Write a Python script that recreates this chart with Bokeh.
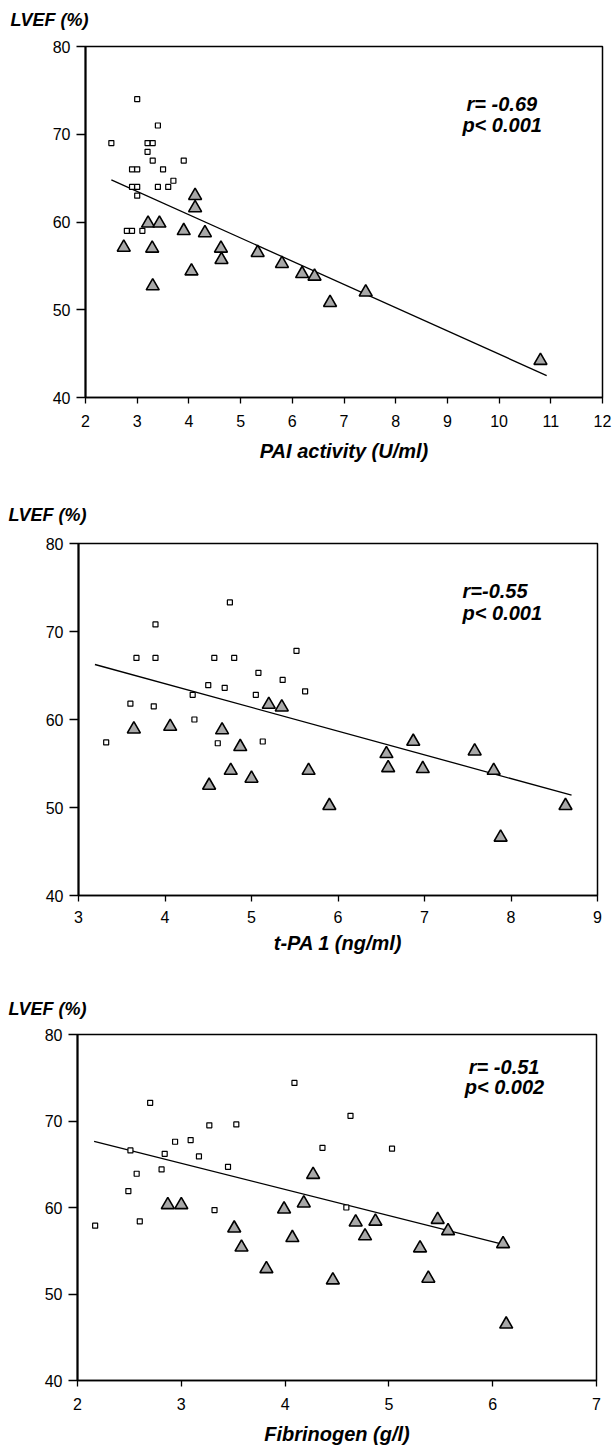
from bokeh.plotting import figure
from bokeh.layouts import column, row
from bokeh.models import Range1d, FixedTicker, Label
from bokeh.embed import file_html
from bokeh.resources import INLINE

FONT = "Liberation Sans"

# ---------------- data ----------------
y_ticks = [40, 50, 60, 70, 80]
y_title = "LVEF (%)"

# Panel 1: PAI activity
pai_ticks = [2, 3, 4, 5, 6, 7, 8, 9, 10, 11, 12]
pai_sq_x = [2.5, 3.0, 3.4, 3.2, 3.3, 3.2, 3.3, 3.9, 2.9, 3.0, 3.5, 3.7, 2.9, 3.0, 3.4, 3.6, 3.0, 2.8, 2.9, 3.1]
pai_sq_y = [69, 74, 71, 69, 69, 68, 67, 67, 66, 66, 66, 64.7, 64, 64, 64, 64, 63, 59, 59, 59]
pai_tr_x = [4.12, 4.12, 3.21, 3.43, 3.9, 4.31, 2.74, 3.29, 4.62, 4.63, 4.05, 3.3, 5.33, 5.8, 6.19, 6.43, 6.73, 7.42, 10.8]
pai_tr_y = [63.0, 61.6, 59.85, 59.85, 59.0, 58.75, 57.1, 57.0, 57.0, 55.7, 54.4, 52.7, 56.5, 55.25, 54.1, 53.8, 50.8, 52.0, 44.2]
pai_fit_x = [2.5, 10.92]
pai_fit_y = [64.8, 42.5]
pai_stats = ["r= -0.69", "p< 0.001"]
pai_stat_x = [9.37, 9.29]
pai_stat_y = [73.4, 71.1]

# Panel 2: t-PA 1
tpa_ticks = [3, 4, 5, 6, 7, 8, 9]
tpa_sq_x = [3.32, 3.6, 3.67, 3.89, 3.89, 3.87, 4.32, 4.34, 4.5, 4.57, 4.69, 4.61, 4.75, 4.8, 5.05, 5.08, 5.13, 5.36, 5.52, 5.62]
tpa_sq_y = [57.4, 61.8, 67.0, 70.8, 67.0, 61.5, 62.8, 60.0, 63.9, 67.0, 63.6, 57.3, 73.3, 67.0, 62.8, 65.3, 57.5, 64.5, 67.8, 63.2]
tpa_tr_x = [3.64, 4.06, 4.51, 4.66, 4.76, 4.87, 5.0, 5.2, 5.35, 5.66, 5.9, 6.56, 6.58, 6.87, 6.98, 7.58, 7.8, 7.88, 8.63]
tpa_tr_y = [58.9, 59.2, 52.5, 58.8, 54.2, 56.9, 53.3, 61.7, 61.4, 54.2, 50.2, 56.1, 54.5, 57.5, 54.4, 56.4, 54.2, 46.6, 50.2]
tpa_fit_x = [3.19, 8.7]
tpa_fit_y = [66.25, 51.4]
tpa_stats = ["r=-0.55", "p< 0.001"]
tpa_stat_x = [7.44, 7.44]
tpa_stat_y = [74.6, 72.1]

# Panel 3: Fibrinogen
fib_ticks = [2, 3, 4, 5, 6, 7]
fib_sq_x = [2.17, 2.49, 2.51, 2.57, 2.6, 2.7, 2.81, 2.84, 2.94, 3.09, 3.17, 3.27, 3.32, 3.45, 3.53, 4.09, 4.36, 4.59, 4.63, 5.03]
fib_sq_y = [57.9, 61.9, 66.6, 63.9, 58.4, 72.1, 64.4, 66.2, 67.6, 67.8, 65.9, 69.5, 59.7, 64.7, 69.6, 74.4, 66.9, 60.0, 70.6, 66.8]
fib_tr_x = [2.87, 3.0, 3.51, 3.58, 3.82, 3.99, 4.07, 4.18, 4.27, 4.46, 4.68, 4.77, 4.87, 5.3, 5.38, 5.47, 5.57, 6.1, 6.13]
fib_tr_y = [60.3, 60.3, 57.6, 55.4, 52.9, 59.8, 56.5, 60.5, 63.8, 51.6, 58.3, 56.7, 58.4, 55.3, 51.8, 58.6, 57.3, 55.8, 46.5]
fib_fit_x = [2.16, 6.11]
fib_fit_y = [67.65, 55.7]
fib_stats = ["r= -0.51", "p< 0.002"]
fib_stat_x = [5.77, 5.73]
fib_stat_y = [76.3, 73.9]

W = 613


def header(height, text_left, text_center_from_top):
    """Strip above a panel carrying the y-axis title (ranges in pixels)."""
    h = figure(width=W, height=height, x_range=Range1d(0, W), y_range=Range1d(0, height),
               output_backend="svg", toolbar_location=None,
               x_axis_location=None, y_axis_location=None,
               min_border_left=0, min_border_right=0, min_border_top=0, min_border_bottom=0)
    h.outline_line_color = None
    h.xgrid.visible = False
    h.ygrid.visible = False
    h.background_fill_color = "white"
    h.border_fill_color = "white"
    h.add_layout(Label(x=text_left, y=height - text_center_from_top, text=y_title,
                       text_font=FONT, text_font_style="bold italic", text_font_size="18px",
                       text_color="black", text_baseline="middle", text_align="left"))
    return h


def panel(xticks, sq_x, sq_y, tr_x, tr_y, fit_x, fit_y, stats, sx, sy, xlabel,
          height, left, right_border, top, frame_h, tick_standoff, label_standoff):
    x0, x1 = xticks[0], xticks[-1]
    bottom = height - top - frame_h
    p = figure(width=W, height=height, x_range=Range1d(x0, x1), y_range=Range1d(40, 80),
               output_backend="svg", toolbar_location=None,
               min_border_left=left, min_border_right=right_border,
               min_border_top=top, min_border_bottom=bottom)
    p.background_fill_color = "white"
    p.border_fill_color = "white"
    p.outline_line_color = "black"
    p.outline_line_width = 1.5
    p.xgrid.visible = False
    p.ygrid.visible = False

    for ax in (p.xaxis[0], p.yaxis[0]):
        ax.axis_line_color = "black"
        ax.major_tick_line_color = "black"
        ax.major_tick_line_width = 1.3
        ax.minor_tick_line_color = None
        ax.major_tick_in = 0
        ax.major_label_text_font = FONT
        ax.major_label_text_font_size = "16px"
        ax.major_label_text_color = "black"

    xa = p.xaxis[0]
    xa.ticker = FixedTicker(ticks=xticks)
    xa.axis_line_width = 1.5
    xa.major_tick_out = 6
    xa.major_label_standoff = tick_standoff
    xa.axis_label = xlabel
    xa.axis_label_text_font = FONT
    xa.axis_label_text_font_style = "bold italic"
    xa.axis_label_text_font_size = "20px"
    xa.axis_label_text_color = "black"
    xa.axis_label_standoff = label_standoff

    ya = p.yaxis[0]
    ya.ticker = FixedTicker(ticks=y_ticks)
    ya.axis_line_width = 2
    ya.major_tick_out = 9
    ya.major_label_standoff = 6

    p.line(fit_x, fit_y, line_color="black", line_width=1.3)
    p.scatter(sq_x, sq_y, marker="square", size=5, fill_color="white",
              line_color="black", line_width=1.2)
    p.scatter(tr_x, tr_y, marker="triangle", size=13, fill_color="#a8a8a8",
              line_color="black", line_width=1.6)

    for t, x, y in zip(stats, sx, sy):
        p.add_layout(Label(x=x, y=y, text=t, text_font=FONT, text_font_style="bold italic",
                           text_font_size="20px", text_color="black",
                           text_baseline="middle", text_align="left"))
    return p


h1 = header(30, 10, 19)
p1 = panel(pai_ticks, pai_sq_x, pai_sq_y, pai_tr_x, pai_tr_y, pai_fit_x, pai_fit_y,
           pai_stats, pai_stat_x, pai_stat_y, "PAI activity (U/ml)",
           height=465, left=85, right_border=11, top=16, frame_h=351,
           tick_standoff=11, label_standoff=10)
h2 = header(35, 8, 19)
p2 = panel(tpa_ticks, tpa_sq_x, tpa_sq_y, tpa_tr_x, tpa_tr_y, tpa_fit_x, tpa_fit_y,
           tpa_stats, tpa_stat_x, tpa_stat_y, "t-PA 1 (ng/ml)",
           height=455, left=78, right_border=16, top=13, frame_h=352,
           tick_standoff=9, label_standoff=6)
h3 = header(35, 8, 23)
p3 = panel(fib_ticks, fib_sq_x, fib_sq_y, fib_tr_x, fib_tr_y, fib_fit_x, fib_fit_y,
           fib_stats, fib_stat_x, fib_stat_y, "Fibrinogen (g/l)",
           height=428, left=77, right_border=17, top=14, frame_h=346,
           tick_standoff=11, label_standoff=10)

layout = column(row(h1), row(p1), row(h2), row(p2), row(h3), row(p3), spacing=0)
open("out.html", "w").write(file_html(layout, INLINE))
